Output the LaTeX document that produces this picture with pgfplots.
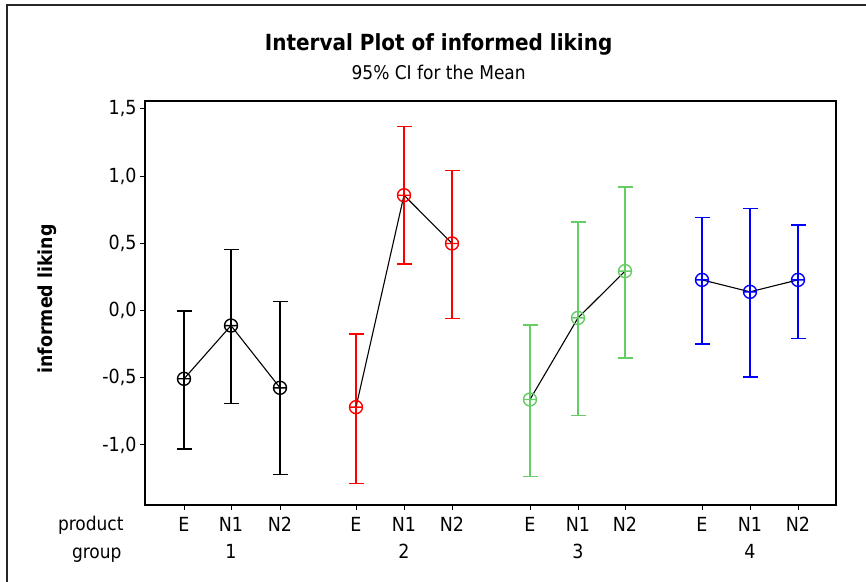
\documentclass[border=0pt]{standalone}
\usepackage{fontspec}
\setmainfont{DejaVu Sans Condensed}
\usepackage{pgfplots}
\pgfplotsset{compat=1.18}
\usepackage{pgfplotstable}
\definecolor{mgreen}{RGB}{102,204,102}
\definecolor{mred}{RGB}{255,0,0}
\definecolor{mblue}{RGB}{0,0,255}

% x = horizontal position of each product within the axis (layout units)
\pgfplotstableread{
x y lo hi
38.5 -0.508 -1.029 -0.005
85.5 -0.112 -0.690 0.456
134.5 -0.575 -1.220 0.065
}\gone
\pgfplotstableread{
x y lo hi
210.5 -0.719 -1.287 -0.174
258.5 0.858 0.347 1.371
306.5 0.499 -0.060 1.044
}\gtwo
\pgfplotstableread{
x y lo hi
384.5 -0.662 -1.233 -0.107
432.5 -0.055 -0.779 0.660
479.5 0.293 -0.352 0.920
}\gthree
\pgfplotstableread{
x y lo hi
556.5 0.228 -0.250 0.694
604.5 0.139 -0.496 0.761
652.5 0.228 -0.206 0.637
}\gfour

\pgfplotsset{
  ebar/.style={color=#1, line width=1.5bp, mark=none, -,
    quiver={u=0, v=\thisrow{hi}-\thisrow{lo}}},
  ecap/.style={color=#1, only marks, mark=-, mark size=7.5bp,
    mark options={solid, color=#1, line width=1.4bp}},
  emark/.style={color=#1, line width=1.4bp, only marks, mark=oplus, mark size=6.5bp,
    mark options={solid, color=#1, line width=1.4bp}},
}

\begin{document}
\begin{tikzpicture}
\path[use as bounding box] (0,0) rectangle (866bp,582bp);
\draw[line width=1.3bp, black!85] (7bp,0) -- (7bp,577bp) -- (866bp,577bp);
\begin{axis}[
  at={(145bp,77bp)}, anchor=south west,
  scale only axis, width=691bp, height=404bp,
  xmin=-0.5, xmax=690.5, ymin=-1.447, ymax=1.559,
  axis line style={line width=1.3bp},
  tick align=outside, xtick pos=left, ytick pos=left,
  major tick length=5bp, tick style={line width=1bp, black},
  xtick={38.5,85.5,134.5,210.5,258.5,306.5,384.5,432.5,479.5,556.5,604.5,652.5},
  xticklabels={E,N1,N2,E,N1,N2,E,N1,N2,E,N1,N2},
  xticklabel style={yshift=-4bp},
  extra x ticks={85.5,258.5,432.5,604.5},
  extra x tick labels={1,2,3,4},
  extra x tick style={major tick length=0pt, tick label style={yshift=-32bp}},
  ytick={-1,-0.5,0,0.5,1,1.5},
  yticklabels={{-1,0},{-0,5},{0,0},{0,5},{1,0},{1,5}},
  tick label style={font=\fontsize{19.5}{21}\selectfont},
  ylabel={\bfseries informed liking},
  ylabel style={at={(rel axis cs:-0.142,0.51)}, anchor=center, rotate=0, font=\fontsize{19.4}{21}\selectfont},
  title={\bfseries Interval Plot of informed liking},
  title style={at={(rel axis cs:0.425,1.1097)}, anchor=base, font=\fontsize{22.3}{24}\selectfont},
  clip=false
]
% confidence interval bars
\addplot[ebar=black] table[x=x, y=lo] {\gone};
\addplot[ebar=mred] table[x=x, y=lo] {\gtwo};
\addplot[ebar=mgreen] table[x=x, y=lo] {\gthree};
\addplot[ebar=mblue] table[x=x, y=lo] {\gfour};
% caps
\addplot[ecap=black] table[x=x, y=lo] {\gone};
\addplot[ecap=black] table[x=x, y=hi] {\gone};
\addplot[ecap=mred] table[x=x, y=lo] {\gtwo};
\addplot[ecap=mred] table[x=x, y=hi] {\gtwo};
\addplot[ecap=mgreen] table[x=x, y=lo] {\gthree};
\addplot[ecap=mgreen] table[x=x, y=hi] {\gthree};
\addplot[ecap=mblue] table[x=x, y=lo] {\gfour};
\addplot[ecap=mblue] table[x=x, y=hi] {\gfour};
% means
\addplot[emark=black] table[x=x, y=y] {\gone};
\addplot[emark=mred] table[x=x, y=y] {\gtwo};
\addplot[emark=mgreen] table[x=x, y=y] {\gthree};
\addplot[emark=mblue] table[x=x, y=y] {\gfour};
\addplot[black, line width=1.1bp, no marks] table[x=x, y=y] {\gone};
\addplot[black, line width=1.1bp, no marks] table[x=x, y=y] {\gtwo};
\addplot[black, line width=1.1bp, no marks] table[x=x, y=y] {\gthree};
\addplot[black, line width=1.1bp, no marks] table[x=x, y=y] {\gfour};
\node[anchor=base, font=\fontsize{19}{21}\selectfont] at (rel axis cs:0.425,1.052) {95\% CI for the Mean};
\end{axis}
\node[anchor=base east, font=\fontsize{19}{21}\selectfont] at (127bp,51bp) {product};
\node[anchor=base east, font=\fontsize{19}{21}\selectfont] at (125bp,24bp) {group};
\end{tikzpicture}
\end{document}
